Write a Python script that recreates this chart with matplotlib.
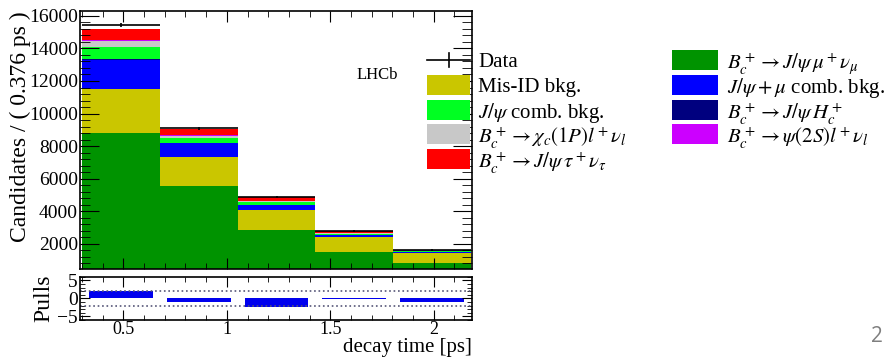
import numpy as np
import matplotlib.pyplot as plt
from matplotlib.patches import Rectangle
from matplotlib.lines import Line2D
from matplotlib.ticker import MultipleLocator

plt.rcParams['font.family'] = 'Liberation Serif'
plt.rcParams['mathtext.fontset'] = 'stix'

# binning: 5 bins of 0.376 ps
edges = [0.3, 0.676, 1.052, 1.428, 1.804, 2.18]

# stacked components (bottom -> top), candidates per bin
sig_mu = [8800, 5560, 2850, 1490, 820]      # B_c -> J/psi mu nu
misid = [2700, 1800, 1240, 920, 610]        # Mis-ID bkg.
comb_mu = [1800, 800, 280, 120, 70]         # J/psi + mu comb. bkg.
hc = [40, 25, 20, 20, 25]                   # B_c -> J/psi H_c
comb_jpsi = [750, 310, 150, 80, 40]         # J/psi comb. bkg.
chic = [350, 140, 80, 50, 20]               # B_c -> chi_c(1P) l nu
psi2s = [80, 40, 20, 10, 5]                 # B_c -> psi(2S) l nu
tau = [700, 370, 230, 100, 40]              # B_c -> J/psi tau nu

data = [15460, 9100, 4860, 2800, 1620]
pulls = [2.0, -1.0, -2.4, -0.15, -1.0]

c_sig = '#009300'
c_misid = '#cac600'
c_combmu = '#0000ff'
c_hc = '#00007f'
c_combjpsi = '#00ff22'
c_chic = '#c8c8c8'
c_psi2s = '#cc00ff'
c_tau = '#ff0000'

edges = np.array(edges)
width = np.diff(edges)
centers = edges[:-1] + width / 2

W, H = 888, 357
fig = plt.figure(figsize=(8.88, 3.57), dpi=100)
ax = fig.add_axes([0.0901, 0.2465, 0.4414, 0.7227])
axp = fig.add_axes([0.0901, 0.1036, 0.4414, 0.1213])

comps = [(sig_mu, c_sig), (misid, c_misid), (comb_mu, c_combmu), (hc, c_hc),
         (comb_jpsi, c_combjpsi), (chic, c_chic), (psi2s, c_psi2s), (tau, c_tau)]
bottom = np.zeros(5)
for vals, col in comps:
    ax.bar(edges[:-1], vals, width=width, bottom=bottom, align='edge',
           color=col, linewidth=0)
    bottom += np.array(vals)

ax.errorbar(centers, data, xerr=width / 2, yerr=np.sqrt(data), fmt='none',
            ecolor='black', elinewidth=1.2, capsize=0)

ax.set_xlim(0.29, 2.185)
ax.set_ylim(450, 16300)
ax.set_yticks([2000, 4000, 6000, 8000, 10000, 12000, 14000, 16000])
ax.yaxis.set_minor_locator(MultipleLocator(400))
ax.xaxis.set_major_locator(MultipleLocator(0.5))
ax.xaxis.set_minor_locator(MultipleLocator(0.1))
ax.tick_params(axis='x', which='both', direction='in', top=True, bottom=True,
               labelbottom=False)
ax.tick_params(axis='x', which='major', length=8)
ax.tick_params(axis='x', which='minor', length=4)
ax.tick_params(axis='y', which='both', direction='in', left=True, right=True,
               labelsize=14, pad=1.5)
ax.tick_params(axis='y', which='major', length=14)
ax.tick_params(axis='y', which='minor', length=7)
ax.set_ylabel('Candidates / ( 0.376 ps )', fontsize=17, loc='top')
ax.yaxis.set_label_coords(-0.125, 1.0)
fig.text(357 / W, 1 - 75 / H, 'LHCb', fontsize=12, va='center')
for s in ax.spines.values():
    s.set_linewidth(1.2)

# pulls
axp.bar(centers, pulls, width=width * 0.82, color='#0000ee', linewidth=0)
axp.axhline(2, color='#555577', linestyle=':', linewidth=1.2)
axp.axhline(-2, color='#555577', linestyle=':', linewidth=1.2)
axp.set_xlim(0.29, 2.185)
axp.set_ylim(-6, 6)
axp.set_yticks([-5, 0, 5])
axp.set_yticklabels(['\u22125', '0', '5'])
axp.yaxis.set_minor_locator(MultipleLocator(1))
axp.xaxis.set_minor_locator(MultipleLocator(0.1))
axp.set_xticks([0.5, 1, 1.5, 2])
axp.set_xticklabels(['0.5', '1', '1.5', '2'])
axp.tick_params(which='both', direction='in', top=True, right=True, labelsize=14)
axp.tick_params(axis='y', which='both', pad=1.5)
axp.tick_params(axis='x', which='both', pad=1, labelsize=13)
axp.tick_params(which='major', length=7)
axp.tick_params(which='minor', length=3.5)
axp.set_ylabel('Pulls', fontsize=17)
axp.yaxis.set_label_coords(-0.065, 0.5)
axp.set_xlabel('decay time [ps]', fontsize=15, loc='right', va='bottom')
axp.xaxis.set_label_coords(1.0, -0.85)
for s in axp.spines.values():
    s.set_linewidth(1.2)

# legend, drawn by hand so every row has the same pitch
l1 = ['Data', 'Mis-ID bkg.', r'$J/\psi$ comb. bkg.',
      r'$B_c^+ \rightarrow \chi_c(1P)l^+\nu_l$',
      r'$B_c^+ \rightarrow J/\psi\,\tau^+\nu_\tau$']
c1 = [None, c_misid, c_combjpsi, c_chic, c_tau]
l2 = [r'$B_c^+ \rightarrow J/\psi\,\mu^+\nu_\mu$', r'$J/\psi+\mu$ comb. bkg.',
      r'$B_c^+ \rightarrow J/\psi\,H_c^+$',
      r'$B_c^+ \rightarrow \psi(2S)l^+\nu_l$']
c2 = [c_sig, c_combmu, c_hc, c_psi2s]

def legend_column(labels, colors, x0, x1, xt):
    for i, (lab, col) in enumerate(zip(labels, colors)):
        yc = 1 - (60 + 24.75 * i) / H
        if col is None:
            fig.add_artist(Line2D([x0 / W, x1 / W], [yc, yc], color='black', lw=1.2))
            xm = (x0 + x1) / 2 / W
            fig.add_artist(Line2D([xm, xm], [yc - 7 / H, yc + 7 / H], color='black', lw=1.2))
        else:
            fig.add_artist(Rectangle((x0 / W, yc - 10 / H), (x1 - x0) / W, 20 / H,
                                     facecolor=col, edgecolor='none',
                                     transform=fig.transFigure))
        fig.text(xt / W, yc, lab, fontsize=15, va='center_baseline', ha='left')

legend_column(l1, c1, 427, 470, 478)
legend_column(l2, c2, 672, 718, 727)

fig.text(877 / W, 1 - 336 / H, '2', fontsize=15, color='#7f7f7f',
         family='Open Sans', ha='center', va='center')

fig.savefig('out.png', dpi=100)
